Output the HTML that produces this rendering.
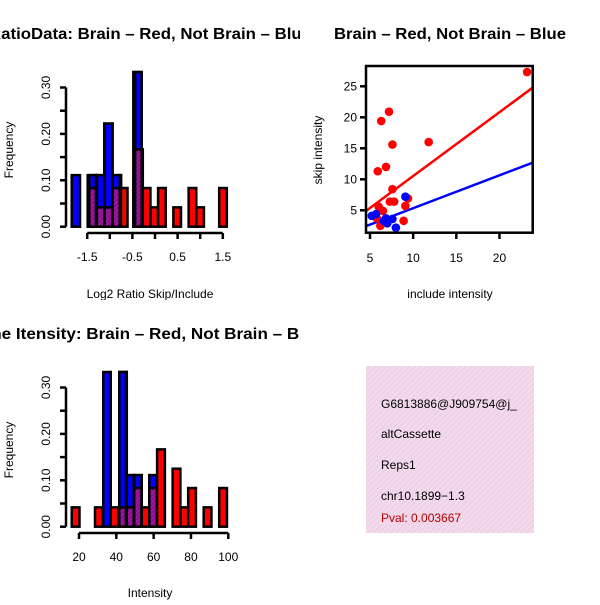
<!DOCTYPE html>
<html><head><meta charset="utf-8"><style>
html,body{margin:0;padding:0;background:#fff}
svg text{font-family:"Liberation Sans",sans-serif}
</style></head><body>
<svg id="c" width="600" height="600" viewBox="0 0 600 600" xmlns="http://www.w3.org/2000/svg">
<defs>
<clipPath id="q1"><rect x="0" y="0" width="300" height="300"/></clipPath>
<clipPath id="q3"><rect x="0" y="300" width="300" height="300"/></clipPath>
<clipPath id="q2"><rect x="366" y="66" width="167" height="167"/></clipPath>
<clipPath id="q4"><rect x="366" y="366" width="168" height="167"/></clipPath>
<pattern id="hatch" width="4" height="4" patternUnits="userSpaceOnUse" patternTransform="rotate(45)">
<rect width="4" height="4" fill="#f8d6f2"/><rect width="1.3" height="4" fill="#e2d6d8"/></pattern>
<pattern id="purp" width="3" height="3" patternUnits="userSpaceOnUse" patternTransform="rotate(45)">
<rect width="3" height="3" fill="#8a0aa0"/><rect width="1" height="3" fill="#b02090"/></pattern>
</defs>
<g id="g1" clip-path="url(#q1)"></g>
<g id="g2"></g>
<g id="g3" clip-path="url(#q3)"></g>
<g id="g4"></g>
</svg>
<script>
// ---- Top-left histogram data (log2 ratio) ----
const ratioBlueLefts = [-1.843, -1.489, -1.305, -1.122, -0.936, -0.480];
const ratioBlueCounts = [1, 1, 1, 2, 1, 3];
const ratioBlueTotal = 9;
const ratioBlueWidth = 0.184;
const ratioRedStart = -1.453;
const ratioRedWidth = 0.169;
const ratioRedCounts = [2,1,1,2,2,0,4,2,1,2,0,1,0,2,1,0,0,2];
const ratioRedTotal = 24;
const ratioXTicks = [-1.5, -1.0, -0.5, 0, 0.5, 1.0, 1.5];
const ratioXLabels = ["-1.5", "", "-0.5", "", "0.5", "", "1.5"];
const freqTicks = [0, 0.05, 0.10, 0.15, 0.20, 0.25, 0.30];
const freqLabels = ["0.00", "", "0.10", "", "0.20", "", "0.30"];
// ---- Bottom-left histogram data (intensity) ----
const intBlueLefts = [33.0, 41.6, 45.6, 49.6, 57.7];
const intBlueCounts = [3, 3, 1, 1, 1];
const intBlueTotal = 9;
const intBlueWidth = 4.0;
const intRedStart = 16.1;
const intRedWidth = 4.16;
const intRedCounts = [1,0,0,1,0,1,1,1,2,1,2,4,0,3,1,2,0,1,0,2];
const intRedTotal = 24;
const intXTicks = [20, 40, 60, 80, 100];
// ---- Scatter data ----
const redX = [23.2, 7.2, 6.3, 7.6, 11.8, 5.9, 6.85, 7.6, 7.3, 7.8, 9.1, 9.4, 6.0, 6.5, 6.2, 8.9, 5.8];
const redY = [27.3, 20.9, 19.4, 15.6, 16.0, 11.3, 12.0, 8.4, 6.4, 6.4, 5.7, 6.9, 5.6, 4.9, 2.5, 3.3, 3.7];
const blueX = [9.1, 5.2, 5.7, 6.85, 7.0, 7.6, 8.0, 6.6];
const blueY = [7.2, 4.1, 4.4, 3.7, 2.9, 3.6, 2.2, 3.3];
const fitIntercept = [0.22, 0.04];
const fitSlope = [1.03, 0.53];
const scatXTicks = [5, 10, 15, 20];
const scatYTicks = [5, 10, 15, 20, 25];
const infoLines = ["G6813886@J909754@j_", "altCassette", "Reps1", "chr10.1899\u22121.3"];
const pvalText = "Pval: 0.003667";

const NS = "http://www.w3.org/2000/svg";
function mk(parent, tag, attrs, txt) {
  const e = document.createElementNS(NS, tag);
  for (const k in attrs) e.setAttribute(k, attrs[k]);
  if (txt !== undefined) e.textContent = txt;
  parent.appendChild(e);
  return e;
}
const g1 = document.getElementById('g1'), g2 = document.getElementById('g2');
const g3 = document.getElementById('g3'), g4 = document.getElementById('g4');

function histogram(g, o) {
  const xs = v => o.x0px + (v - o.x0) * o.xk;
  const ys = v => o.ybase - v * o.yk;
  const blue = o.blueLefts.map((l, i) => ({a: l, b: l + o.blueW, v: o.blueCounts[i] / o.blueTot}));
  const red = o.redCounts.map((c, i) => ({a: o.redStart + i * o.redW, b: o.redStart + (i + 1) * o.redW, v: c / o.redTot}));
  blue.forEach(bb => {
    const r = mk(g, 'rect', {x: xs(bb.a), y: ys(bb.v), width: xs(bb.b) - xs(bb.a), height: ys(0) - ys(bb.v), fill: '#0000ff', stroke: '#000', 'stroke-width': 2.5});
    
    
  });
  red.forEach(rb => {
    if (rb.v <= 0) return;
    const r = mk(g, 'rect', {x: xs(rb.a), y: ys(rb.v), width: xs(rb.b) - xs(rb.a), height: ys(0) - ys(rb.v), fill: '#ff0000', stroke: '#000', 'stroke-width': 2.5});
    
    
    blue.forEach(bb => {
      const a = Math.max(rb.a, bb.a), b = Math.min(rb.b, bb.b);
      if (b - a > 0.0001) {
        const h = Math.min(rb.v, bb.v);
        const p = mk(g, 'rect', {x: xs(a), y: ys(h), width: xs(b) - xs(a), height: ys(0) - ys(h), fill: 'url(#purp)', stroke: '#000', 'stroke-width': 2.5});
        
        
        if (bb.v > rb.v) {
          const t = mk(g, 'rect', {x: xs(a), y: ys(bb.v), width: xs(b) - xs(a), height: ys(h) - ys(bb.v), fill: '#0000ff', stroke: '#000', 'stroke-width': 2.5});
          
          
        }
      }
    });
  });
  const yl = mk(g, 'line', {x1: o.yaxX, x2: o.yaxX, y1: ys(0.30), y2: ys(0), stroke: '#000', 'stroke-width': 2.5});
  
  
  freqTicks.forEach((t, i) => {
    mk(g, 'line', {x1: o.yaxX - 6, x2: o.yaxX, y1: ys(t), y2: ys(t), stroke: '#000', 'stroke-width': 2.5});
    if (freqLabels[i]) {
      const tx = mk(g, 'text', {x: 0, y: 0, 'font-size': 12, 'text-anchor': 'middle', transform: `translate(${o.yaxX - 16},${ys(t)}) rotate(-90)`}, freqLabels[i]);
      
      
    }
  });
  const xl = mk(g, 'line', {x1: xs(o.xTicks[0]), x2: xs(o.xTicks[o.xTicks.length - 1]), y1: o.xaxY, y2: o.xaxY, stroke: '#000', 'stroke-width': 2.5});
  
  
  o.xTicks.forEach((t, i) => {
    mk(g, 'line', {x1: xs(t), x2: xs(t), y1: o.xaxY, y2: o.xaxY + 6, stroke: '#000', 'stroke-width': 2.5});
    if (o.xLabels[i]) {
      const tx = mk(g, 'text', {x: xs(t), y: o.xaxY + 28, 'font-size': 12, 'text-anchor': 'middle'}, o.xLabels[i]);
      
      
    }
  });
  const ti = mk(g, 'text', {x: 150, y: o.titleY, 'font-size': 16, 'font-weight': 'bold', 'text-anchor': 'middle', textLength: o.titleLen, lengthAdjust: 'spacingAndGlyphs'}, o.title);
  
  
  const xt = mk(g, 'text', {x: 150, y: o.xtitleY, 'font-size': 12, 'text-anchor': 'middle'}, o.xtitle);
  
  
  const yt = mk(g, 'text', {x: 0, y: 0, 'font-size': 12, 'text-anchor': 'middle', transform: `translate(13,${o.ytitleC}) rotate(-90)`}, 'Frequency');
  
  
}

histogram(g1, {x0: 0, x0px: 155, xk: 45.2, ybase: 226.7, yk: 464, blueLefts: ratioBlueLefts, blueCounts: ratioBlueCounts, blueTot: ratioBlueTotal, blueW: ratioBlueWidth,
  redStart: ratioRedStart, redW: ratioRedWidth, redCounts: ratioRedCounts, redTot: ratioRedTotal, xTicks: ratioXTicks, xLabels: ratioXLabels,
  yaxX: 66, xaxY: 233, title: 'RatioData: Brain \u2013 Red, Not Brain \u2013 Blue', titleLen: 322, titleY: 39, xtitle: 'Log2 Ratio Skip/Include', xtitleY: 298, ytitleC: 150});
histogram(g3, {x0: 20, x0px: 79, xk: 1.866, ybase: 526.7, yk: 464, blueLefts: intBlueLefts, blueCounts: intBlueCounts, blueTot: intBlueTotal, blueW: intBlueWidth,
  redStart: intRedStart, redW: intRedWidth, redCounts: intRedCounts, redTot: intRedTotal, xTicks: intXTicks, xLabels: intXTicks.map(String),
  yaxX: 66, xaxY: 533, title: 'Line Itensity: Brain \u2013 Red, Not Brain \u2013 Blue', titleLen: 348, titleY: 339, xtitle: 'Intensity', xtitleY: 597, ytitleC: 450});

(function () {
  const xs = v => 370 + (v - 5) * 8.63;
  const ys = v => 210.3 - (v - 5) * 6.2;
  const pc = mk(g2, 'g', {'clip-path': 'url(#q2)'});
  const cols = ['#ff0000', '#0000ff'];
  [0, 1].forEach(k => {
    const x1 = 4.54, x2 = 23.86;
    const l = mk(pc, 'line', {x1: xs(x1), x2: xs(x2), y1: ys(fitIntercept[k] + fitSlope[k] * x1), y2: ys(fitIntercept[k] + fitSlope[k] * x2), stroke: cols[k], 'stroke-width': 2.5});
    
    
  });
  redX.forEach((x, i) => {
    const c = mk(pc, 'circle', {cx: xs(x), cy: ys(redY[i]), r: 4.3, fill: '#ff0000'});
    
    
  });
  blueX.forEach((x, i) => {
    const c = mk(pc, 'circle', {cx: xs(x), cy: ys(blueY[i]), r: 4.3, fill: '#0000ff'});
    
    
  });
  const box = mk(g2, 'rect', {x: 366, y: 66, width: 166.7, height: 166.7, fill: 'none', stroke: '#000', 'stroke-width': 2.5});
  
  
  scatXTicks.forEach(t => {
    mk(g2, 'line', {x1: xs(t), x2: xs(t), y1: 233, y2: 239, stroke: '#000', 'stroke-width': 2.5});
    const tx = mk(g2, 'text', {x: xs(t), y: 262, 'font-size': 12, 'text-anchor': 'middle'}, String(t));
    
    
  });
  scatYTicks.forEach(t => {
    mk(g2, 'line', {x1: 360, x2: 366, y1: ys(t), y2: ys(t), stroke: '#000', 'stroke-width': 2.5});
    const tx = mk(g2, 'text', {x: 357, y: ys(t) + 4, 'font-size': 12, 'text-anchor': 'end'}, String(t));
    
    
  });
  const ti = mk(g2, 'text', {x: 450, y: 39, 'font-size': 16, 'font-weight': 'bold', 'text-anchor': 'middle', textLength: 232, lengthAdjust: 'spacingAndGlyphs'}, 'Brain \u2013 Red, Not Brain \u2013 Blue');
  
  
  const xt = mk(g2, 'text', {x: 450, y: 298, 'font-size': 12, 'text-anchor': 'middle'}, 'include intensity');
  
  
  const yt = mk(g2, 'text', {x: 0, y: 0, 'font-size': 12, 'text-anchor': 'middle', transform: 'translate(322,150) rotate(-90)'}, 'skip intensity');
  
  
})();

(function () {
  const bg = mk(g4, 'rect', {x: 366, y: 366, width: 168, height: 167, fill: 'url(#hatch)'});
  
  
  const tg = mk(g4, 'g', {'clip-path': 'url(#q4)'});
  const ys = [408, 438, 469, 500];
  infoLines.forEach((s, i) => {
    const t = mk(tg, 'text', {x: 381, y: ys[i], 'font-size': 12, fill: '#000'}, s);
    
    
  });
  const p = mk(tg, 'text', {x: 381, y: 522, 'font-size': 12, fill: '#b00000'}, pvalText);
  
  
})();
</script>
</body></html>
